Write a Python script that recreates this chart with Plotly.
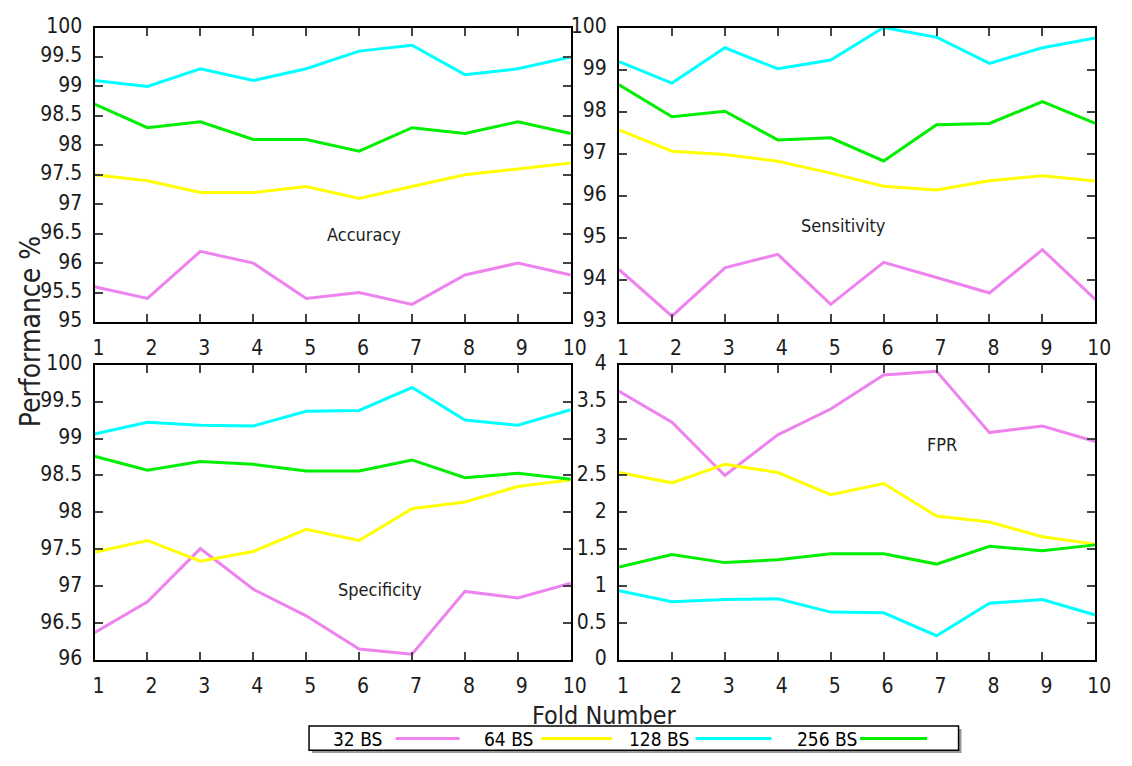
import plotly.graph_objects as go

W, H = 1132, 766

folds = list(range(1, 11))
series_names = ["32 BS", "64 BS", "128 BS", "256 BS"]
series_colors = ["#EE82EE", "#FFFF00", "#00FFFF", "#00EE00"]

# Accuracy (%)
accuracy_32 = [95.6, 95.4, 96.2, 96.0, 95.4, 95.5, 95.3, 95.8, 96.0, 95.8]
accuracy_64 = [97.5, 97.4, 97.2, 97.2, 97.3, 97.1, 97.3, 97.5, 97.6, 97.7]
accuracy_128 = [99.1, 99.0, 99.3, 99.1, 99.3, 99.6, 99.7, 99.2, 99.3, 99.5]
accuracy_256 = [98.7, 98.3, 98.4, 98.1, 98.1, 97.9, 98.3, 98.2, 98.4, 98.2]

# Sensitivity (%)
sensitivity_32 = [94.25, 93.14, 94.29, 94.61, 93.42, 94.42, 94.06, 93.69, 94.72, 93.54]
sensitivity_64 = [97.57, 97.06, 96.98, 96.82, 96.54, 96.23, 96.14, 96.36, 96.48, 96.35]
sensitivity_128 = [99.19, 98.68, 99.52, 99.02, 99.23, 100.0, 99.77, 99.15, 99.52, 99.75]
sensitivity_256 = [98.64, 97.88, 98.01, 97.33, 97.38, 96.83, 97.69, 97.72, 98.24, 97.72]

# Specificity (%)
specificity_32 = [96.37, 96.79, 97.51, 96.96, 96.60, 96.15, 96.08, 96.93, 96.84, 97.04]
specificity_64 = [97.46, 97.62, 97.34, 97.47, 97.77, 97.62, 98.05, 98.14, 98.35, 98.44]
specificity_128 = [99.06, 99.22, 99.18, 99.17, 99.37, 99.38, 99.69, 99.25, 99.18, 99.39]
specificity_256 = [98.76, 98.57, 98.69, 98.65, 98.56, 98.56, 98.71, 98.47, 98.53, 98.45]

# False positive rate (%)
fpr_32 = [3.64, 3.22, 2.50, 3.05, 3.40, 3.86, 3.91, 3.08, 3.17, 2.96]
fpr_64 = [2.54, 2.40, 2.65, 2.54, 2.24, 2.39, 1.95, 1.87, 1.67, 1.57]
fpr_128 = [0.94, 0.79, 0.82, 0.83, 0.65, 0.64, 0.33, 0.77, 0.82, 0.61]
fpr_256 = [1.26, 1.43, 1.32, 1.36, 1.44, 1.44, 1.30, 1.54, 1.48, 1.56]

panel_titles = ["Accuracy", "Sensitivity", "Specificity", "FPR"]
panel_series = [
    [accuracy_32, accuracy_64, accuracy_128, accuracy_256],
    [sensitivity_32, sensitivity_64, sensitivity_128, sensitivity_256],
    [specificity_32, specificity_64, specificity_128, specificity_256],
    [fpr_32, fpr_64, fpr_128, fpr_256],
]
panel_ranges = [[95, 100], [93, 100], [96, 100], [0, 4]]
panel_dticks = [0.5, 1, 0.5, 0.5]
label_pos = [(6.1, 96.48), (5.25, 95.3), (6.4, 96.95), (7.1, 2.92)]


def px(x):
    return x / W


def py(y):
    return 1 - y / H


x_left = [px(94), px(578)]
x_right = [px(627), px(1111)]
y_top = [py(318), py(14)]
y_bottom = [py(667), py(362)]
domains = [(x_left, y_top), (x_right, y_top), (x_left, y_bottom), (x_right, y_bottom)]

FONT = "DejaVu Sans Condensed, Liberation Sans, sans-serif"
TXT = "#1c1c1c"

fig = go.Figure()
layout = {}
annotations = []

for i in range(4):
    sfx = "" if i == 0 else str(i + 1)
    xa, ya = "x" + sfx, "y" + sfx
    for vals, name, col in zip(panel_series[i], series_names, series_colors):
        fig.add_trace(go.Scatter(
            x=folds, y=vals, mode="lines", name=name,
            line=dict(color=col, width=3), xaxis=xa, yaxis=ya,
            showlegend=False, cliponaxis=False,
        ))
    xd, yd = domains[i]
    axis_common = dict(
        showline=True, linecolor="black", linewidth=2, mirror="allticks",
        ticks="inside", ticklen=8, tickwidth=2, tickcolor="#444",
        showgrid=False, zeroline=False,
        tickfont=dict(family=FONT, size=21, color=TXT),
    )
    layout["xaxis" + sfx] = dict(
        domain=xd, anchor=ya, range=[1, 10], tickvals=folds,
        ticklabelstandoff=6, ticklabelshift=4, **axis_common,
    )
    layout["yaxis" + sfx] = dict(
        domain=yd, anchor=xa, range=panel_ranges[i], dtick=panel_dticks[i],
        tick0=panel_ranges[i][0], ticklabelstandoff=6, ticklabelshift=-2,
        **axis_common,
    )
    annotations.append(dict(
        x=label_pos[i][0], y=label_pos[i][1], xref=xa, yref=ya,
        xanchor="center", yanchor="middle",
        text=panel_titles[i], showarrow=False,
        font=dict(family=FONT, size=18, color=TXT),
    ))

# shared axis titles
annotations.append(dict(
    x=px(29), y=py(328), xref="paper", yref="paper", text="Performance %",
    xanchor="center", yanchor="middle",
    textangle=-90, showarrow=False, font=dict(family=FONT, size=28, color="#222"),
))
annotations.append(dict(
    x=px(612), y=py(724), xref="paper", yref="paper", text="Fold Number",
    xanchor="center", yanchor="middle",
    showarrow=False, font=dict(family=FONT, size=25, color="#222"),
))

# legend box: label followed by a line sample
shapes = [
    dict(type="rect", xref="paper", yref="paper",
         x0=px(315), x1=px(975), y0=py(763), y1=py(738),
         line=dict(width=0), fillcolor="#9a9a9a", layer="above"),
    dict(type="rect", xref="paper", yref="paper",
         x0=px(312), x1=px(972), y0=py(760), y1=py(735),
         line=dict(color="black", width=1.5), fillcolor="white", layer="above"),
]
legend_text_x = [361, 515, 668, 838]
legend_line_x = [(400, 465), (548, 620), (705, 782), (872, 940)]
for name, col, tx, (l0, l1) in zip(series_names, series_colors, legend_text_x, legend_line_x):
    annotations.append(dict(
        x=px(tx), y=py(748), xref="paper", yref="paper", text=name,
        xanchor="center", yanchor="middle",
        showarrow=False, font=dict(family=FONT, size=19, color="black"),
    ))
    shapes.append(dict(
        type="line", xref="paper", yref="paper",
        x0=px(l0), x1=px(l1), y0=py(748), y1=py(748),
        line=dict(color=col, width=3), layer="above",
    ))

fig.update_layout(
    width=W, height=H,
    margin=dict(l=0, r=0, t=0, b=0),
    paper_bgcolor="white", plot_bgcolor="white",
    annotations=annotations, shapes=shapes,
    **layout,
)

fig.write_html("out.html")
